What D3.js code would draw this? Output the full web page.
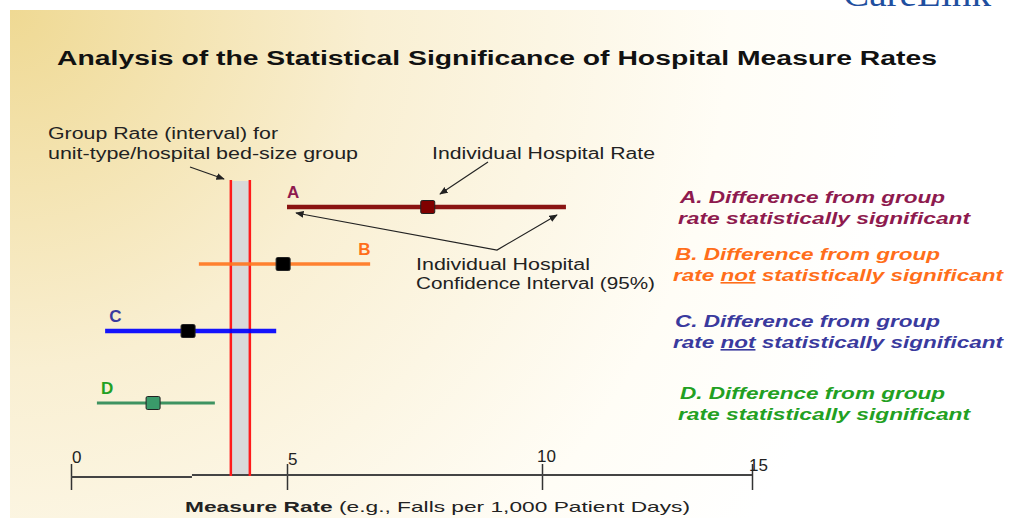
<!DOCTYPE html>
<html>
<head>
<meta charset="utf-8">
<script src="https://cdn.jsdelivr.net/npm/d3@7"></script>
<style>
  body { margin: 0; background: #fff; }
  svg { display: block; font-family: "Liberation Sans", Arial, sans-serif; }
</style>
</head>
<body>
<script>
// data
const rows = ["A", "B", "C", "D"];
const lower = [5.0, 2.96, 0.79, 0.6];
const point = [7.76, 4.91, 2.71, 1.9];
const upper = [10.57, 6.63, 4.75, 3.33];
const groupInterval = [3.70, 4.14];
const tickValues = [0, 5, 10, 15];
const legendFirst = ["A. Difference from group", "B. Difference from group", "C. Difference from group", "D. Difference from group"];
const legendSig = [true, false, false, true];

const lineColor = ["#800000", "#ff7722", "#0000ff", "#2e8b57"];
const markColor = ["#800000", "#000000", "#000000", "#3a9a6a"];
const textColor = ["#8e1a4e", "#ff6e1a", "#3a3a9e", "#22a022"];
const lineWidth = [4.5, 3.5, 4.5, 3];

const W = 1012, H = 518;

const svg = d3.select("body").append("svg")
    .attr("width", W)
    .attr("height", H);

// background gradient
const defs = svg.append("defs");
const grad = defs.append("radialGradient")
    .attr("id", "bg")
    .attr("gradientUnits", "userSpaceOnUse")
    .attr("cx", 10).attr("cy", 10).attr("r", 900);
grad.append("stop").attr("offset", "0%").attr("stop-color", "#efd993");
grad.append("stop").attr("offset", "40%").attr("stop-color", "#f9efd2");
grad.append("stop").attr("offset", "80%").attr("stop-color", "#fffdf6");
grad.append("stop").attr("offset", "100%").attr("stop-color", "#ffffff");

svg.append("rect")
    .attr("x", 10).attr("y", 10)
    .attr("width", W - 10).attr("height", H - 10)
    .attr("fill", "url(#bg)");

// corner logo text (cut at top, as in the source)
svg.append("text")
    .attr("x", 843).attr("y", 6)
    .attr("font-family", "'Liberation Serif', 'DejaVu Serif', serif")
    .attr("font-size", 36)
    .attr("textLength", 148)
    .attr("lengthAdjust", "spacingAndGlyphs")
    .attr("fill", "#1f4f9f")
    .text("CareLink");

// title
svg.append("text")
    .attr("x", 57).attr("y", 65)
    .attr("font-size", 20)
    .attr("font-weight", "bold")
    .attr("textLength", 880)
    .attr("lengthAdjust", "spacingAndGlyphs")
    .attr("fill", "#111")
    .text("Analysis of the Statistical Significance of Hospital Measure Rates");

// scales
const x = d3.scaleLinear()
    .domain(tickValues)
    .range([71, 287, 542, 752]);

const y = d3.scaleOrdinal()
    .domain(rows)
    .range([207, 264, 331, 403]);

const axisY = 476;

// group rate band
svg.append("rect")
    .attr("x", x(groupInterval[0]))
    .attr("y", 181)
    .attr("width", x(groupInterval[1]) - x(groupInterval[0]))
    .attr("height", axisY - 181)
    .attr("fill", "#d9d9d9");

// axis
const xAxis = d3.axisBottom(x).tickValues(tickValues).tickSize(14);
const gx = svg.append("g")
    .attr("class", "x-axis")
    .attr("transform", "translate(0," + axisY + ")")
    .call(xAxis);
gx.select(".domain").remove();
gx.selectAll(".tick text").remove();
gx.selectAll(".tick line")
    .attr("y1", -12)
    .attr("y2", 14)
    .attr("stroke", "#333")
    .attr("stroke-width", 1.5);
gx.append("line")
    .attr("x1", x(0)).attr("x2", x(2.8))
    .attr("y1", 1).attr("y2", 1)
    .attr("stroke", "#444").attr("stroke-width", 2);
gx.append("line")
    .attr("x1", x(2.8)).attr("x2", x(15))
    .attr("y1", -1).attr("y2", -1)
    .attr("stroke", "#444").attr("stroke-width", 2);

const labelDy = [-13, -11, -14, -5];
const labelDx = [1, 1, -5, -3];
svg.selectAll(".tick-label")
    .data(tickValues)
    .join("text")
    .attr("class", "tick-label")
    .attr("x", (d, i) => x(d) + labelDx[i])
    .attr("y", (d, i) => axisY + labelDy[i])
    .attr("font-size", 17)
    .attr("fill", "#222")
    .text(d => d);

// red boundary lines of group interval
svg.selectAll(".grp")
    .data(groupInterval)
    .join("line")
    .attr("class", "grp")
    .attr("x1", d => x(d)).attr("x2", d => x(d))
    .attr("y1", 180).attr("y2", axisY)
    .attr("stroke", "#ff1a1a")
    .attr("stroke-width", 2.5);

// interval lines
const idx = d3.range(rows.length);
svg.selectAll(".ci")
    .data(idx)
    .join("line")
    .attr("class", "ci")
    .attr("x1", i => x(lower[i]))
    .attr("x2", i => x(upper[i]))
    .attr("y1", i => y(rows[i]))
    .attr("y2", i => y(rows[i]))
    .attr("stroke", i => lineColor[i])
    .attr("stroke-width", i => lineWidth[i])
    .attr("stroke-opacity", 0.92);

// point markers
svg.selectAll(".pt")
    .data(idx)
    .join("rect")
    .attr("class", "pt")
    .attr("x", i => x(point[i]) - 7)
    .attr("y", i => y(rows[i]) - 6.5)
    .attr("width", 14)
    .attr("height", 13)
    .attr("rx", 1.5)
    .attr("fill", i => markColor[i])
    .attr("stroke", "#222")
    .attr("stroke-width", 1);

// row letters
svg.selectAll(".letter")
    .data(idx)
    .join("text")
    .attr("class", "letter")
    .attr("x", i => i === 1 ? x(upper[i]) - 12 : x(lower[i]) + (i === 0 ? 0 : 4))
    .attr("y", i => y(rows[i]) - 9)
    .attr("font-size", 17)
    .attr("font-weight", "bold")
    .attr("fill", i => textColor[i])
    .text(i => rows[i]);

// legend on right
const legendX = [680, 675, 675, 680];
const legend = svg.selectAll(".legend")
    .data(idx)
    .join("g")
    .attr("class", "legend")
    .attr("font-size", 16)
    .attr("font-weight", "bold")
    .attr("font-style", "italic")
    .attr("fill", i => textColor[i]);

legend.append("text")
    .attr("x", i => legendX[i])
    .attr("y", i => y(rows[i]) - 4)
    .attr("textLength", 265)
    .attr("lengthAdjust", "spacingAndGlyphs")
    .text(i => legendFirst[i]);

legend.each(function (i) {
    const t = d3.select(this).append("text")
        .attr("x", legendX[i] - 2)
        .attr("y", y(rows[i]) + 17)
        .attr("textLength", legendSig[i] ? 292 : 330)
        .attr("lengthAdjust", "spacingAndGlyphs");
    if (legendSig[i]) {
        t.text("rate statistically significant");
    } else {
        t.append("tspan").text("rate ");
        t.append("tspan").attr("text-decoration", "underline").text("not");
        t.append("tspan").text(" statistically significant");
    }
});

// annotations
const ann = svg.append("g")
    .attr("font-size", 16)
    .attr("fill", "#222");

const annText = [
    [48, 139, 230, "Group Rate (interval) for"],
    [48, 159, 310, "unit-type/hospital bed-size group"],
    [432, 159, 223, "Individual Hospital Rate"],
    [416, 270, 174, "Individual Hospital"],
    [416, 289, 239, "Confidence Interval (95%)"]
];
ann.selectAll("text")
    .data(annText)
    .join("text")
    .attr("x", d => d[0])
    .attr("y", d => d[1])
    .attr("textLength", d => d[2])
    .attr("lengthAdjust", "spacingAndGlyphs")
    .text(d => d[3]);

defs.append("marker")
    .attr("id", "arr")
    .attr("viewBox", "0 0 10 10")
    .attr("refX", 9).attr("refY", 5)
    .attr("markerWidth", 7).attr("markerHeight", 7)
    .attr("orient", "auto-start-reverse")
    .append("path")
    .attr("d", "M0,1 L10,5 L0,9 Z")
    .attr("fill", "#222");

const arrows = svg.append("g")
    .attr("fill", "none")
    .attr("stroke", "#222")
    .attr("stroke-width", 1.2);

arrows.append("path")
    .attr("d", d3.line()([[190, 167], [224, 179]]))
    .attr("marker-end", "url(#arr)");
arrows.append("path")
    .attr("d", d3.line()([[488, 162], [440, 194]]))
    .attr("marker-end", "url(#arr)");
arrows.append("path")
    .attr("d", d3.line()([[296, 213], [497, 250], [557, 215]]))
    .attr("marker-start", "url(#arr)")
    .attr("marker-end", "url(#arr)");

// axis title
const at = svg.append("text")
    .attr("x", 185).attr("y", 512)
    .attr("font-size", 15)
    .attr("fill", "#222")
    .attr("textLength", 505)
    .attr("lengthAdjust", "spacingAndGlyphs");
at.append("tspan").attr("font-weight", "bold").text("Measure Rate");
at.append("tspan").text(" (e.g., Falls per 1,000 Patient Days)");
</script>
</body>
</html>
